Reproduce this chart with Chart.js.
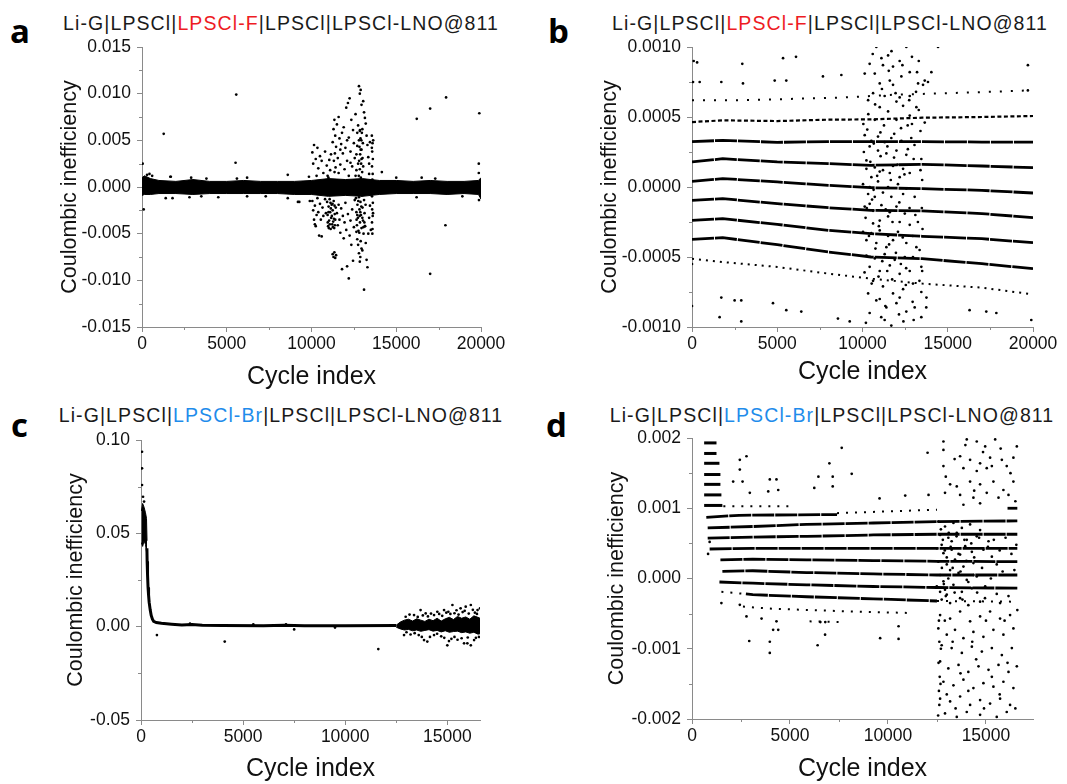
<!DOCTYPE html>
<html>
<head>
<meta charset="utf-8">
<script src="https://cdn.jsdelivr.net/npm/chart.js@4.4.1/dist/chart.umd.min.js"></script>
<style>
  body { margin: 0; background: #fff; width: 1067px; height: 784px; position: relative; overflow: hidden; font-family: "Liberation Sans", Arial, sans-serif; }
  canvas { position: absolute; }
  .tag { position: absolute; font-family: "Open Sans", sans-serif; font-weight: 700; font-size: 33px; line-height: 33px; color: #000; }
  .head { position: absolute; width: 600px; text-align: center; font-size: 19.5px; letter-spacing: 1.1px; line-height: 24px; color: #1a1a1a; white-space: nowrap; }
  .red { color: #ee1c24; }
  .blue { color: #1f8ceb; }
</style>
</head>
<body>
<div class="tag" style="left:10px;top:14px">a</div>
<div class="tag" style="left:548px;top:14px">b</div>
<div class="tag" style="left:11px;top:408px">c</div>
<div class="tag" style="left:546px;top:408px">d</div>
<div class="head" style="left:-19px;top:11px">Li-G|LPSCl|<span class="red">LPSCl-F</span>|LPSCl|LPSCl-LNO@811</div>
<div class="head" style="left:530px;top:11px">Li-G|LPSCl|<span class="red">LPSCl-F</span>|LPSCl|LPSCl-LNO@811</div>
<div class="head" style="left:-19px;top:403px">Li-G|LPSCl|<span class="blue">LPSCl-Br</span>|LPSCl|LPSCl-LNO@811</div>
<div class="head" style="left:532px;top:403px">Li-G|LPSCl|<span class="blue">LPSCl-Br</span>|LPSCl|LPSCl-LNO@811</div>
<canvas id="ca" width="533" height="392" style="left:0;top:0"></canvas>
<canvas id="cb" width="533" height="392" style="left:533px;top:0"></canvas>
<canvas id="cc" width="533" height="392" style="left:0;top:392px"></canvas>
<canvas id="cd" width="533" height="392" style="left:533px;top:392px"></canvas>
<script>
// tick values on the cycle axes
const xTicks20k = [0, 5000, 10000, 15000, 20000];
const xTicks15k = [0, 5000, 10000, 15000];

// ---------- panel a: LPSCl-F, full range ----------
const aBandX  = [0, 150, 500, 1000, 2000, 3000, 4000, 5000, 6000, 7000, 8000, 9000, 10000, 11000, 12000, 13000, 14000, 15000, 16000, 17000, 18000, 19000, 19850, 20000];
const aBandHi = [0.0010, 0.0012, 0.0009, 0.0007, 0.0006, 0.0008, 0.0006, 0.0006, 0.0007, 0.0006, 0.0006, 0.0006, 0.0007, 0.0009, 0.0008, 0.0009, 0.0007, 0.0007, 0.0006, 0.0007, 0.0006, 0.0006, 0.0007, 0.0010];
const aBandLo = [-0.0009, -0.0008, -0.0008, -0.0007, -0.0007, -0.0008, -0.0007, -0.0007, -0.0007, -0.0007, -0.0007, -0.0008, -0.0008, -0.0010, -0.0009, -0.0010, -0.0008, -0.0007, -0.0007, -0.0007, -0.0008, -0.0007, -0.0008, -0.0013];
const aFuzz = [[300,0.0013],[600,0.0012],[1700,0.0011],[2900,0.0010],[3800,0.0009],[5600,0.0009],[6200,0.0010],[8600,0.0013],[9200,-0.0016],[1400,-0.0012],[1800,-0.0012],[2800,-0.0011],[3500,-0.0010],[4500,-0.0011],[6200,-0.0010],[7300,-0.0010],[8600,-0.0012],[15000,0.0010],[16500,0.0010],[17300,0.0009],[18900,-0.0010],[16200,-0.0011],[440,0.0014],[1670,0.0011]];
const aOutliers = [[5560,0.0099],[1280,0.0057],[5520,0.0026],[40,0.0025],[100,-0.0024],[16210,0.0073],[17000,0.0084],[17940,0.0096],[19900,0.0079],[19870,0.0025],[19870,0.0015],[17900,-0.0041],[17000,-0.0093],[19880,-0.0014],[9280,-0.0016],[14150,0.0016]];
const aClusterUp = [[10050,0.0037],[10150,0.0045],[10100,0.0025],[10250,0.0030],[10350,0.0042],[10400,0.0020],[10500,0.0033],[10600,0.0028],[10700,0.0015],[10800,0.0038],[10900,0.0023],[10950,0.0012],[11050,0.0029],[11100,0.0018],[11150,0.0035],[11250,0.0048],[11300,0.0062],[11350,0.0072],[11400,0.0055],[11450,0.0043],[11500,0.0067],[11550,0.0031],[11600,0.0075],[11650,0.0052],[11700,0.0024],[11750,0.0046],[11800,0.0058],[11850,0.0036],[11900,0.0064],[11950,0.0019],[12000,0.0042],[12050,0.0085],[12100,0.0028],[12150,0.0090],[12200,0.0053],[12250,0.0095],[12300,0.0038],[12350,0.0072],[12400,0.0022],[12450,0.0061],[12500,0.0047],[12550,0.0031],[12600,0.0078],[12650,0.0035],[12700,0.0058],[12750,0.0066],[12800,0.0108],[12850,0.0100],[12900,0.0104],[12950,0.0088],[12700,0.0044],[12750,0.0025],[12800,0.0050],[12850,0.0060],[12900,0.0040],[12950,0.0030],[13000,0.0062],[13050,0.0092],[13100,0.0080],[13150,0.0074],[13200,0.0068],[13250,0.0055],[13300,0.0045],[13350,0.0032],[13400,0.0025],[13450,0.0048],[11000,0.0010],[11600,0.0015],[12200,0.0012],[12650,0.0018],[13400,0.0014],[9850,0.0011],[10300,0.0012],[11320,0.0028],[11380,0.0036],[11420,0.0021],[11360,0.0016],[11700,0.0040],[12100,0.0050],[12300,0.0026],[12600,0.0012]];
const aClusterDown = [[10050,-0.0015],[10100,-0.0025],[10150,-0.0035],[10200,-0.0020],[10250,-0.0042],[10300,-0.0030],[10350,-0.0012],[10400,-0.0027],[10450,-0.0052],[10500,-0.0018],[10550,-0.0035],[10600,-0.0053],[10650,-0.0022],[10700,-0.0031],[10800,-0.0013],[10850,-0.0028],[11500,-0.0028],[11550,-0.0041],[11600,-0.0019],[11650,-0.0035],[11700,-0.0049],[11750,-0.0023],[11800,-0.0088],[11850,-0.0031],[11900,-0.0055],[11950,-0.0038],[12000,-0.0017],[12050,-0.0046],[12100,-0.0085],[12150,-0.0029],[12200,-0.0098],[12250,-0.0052],[12300,-0.0036],[12350,-0.0062],[12400,-0.0024],[12450,-0.0079],[12500,-0.0043],[12550,-0.0014],[11250,-0.0072],[11300,-0.0075],[11350,-0.0070],[11400,-0.0076],[11450,-0.0073],[12700,-0.0056],[12750,-0.0062],[12800,-0.0071],[12850,-0.0080],[12900,-0.0058],[12950,-0.0066],[13100,-0.0110],[13150,-0.0042],[13200,-0.0060],[13250,-0.0078],[13300,-0.0086],[13350,-0.0050],[13400,-0.0033],[13450,-0.0020],[13500,-0.0046],[10200,-0.0040],[9900,-0.0015],[13000,-0.0068],[12880,-0.0075],[12650,-0.0048]];
const aDense = [[10920,-0.0016],[10950,-0.0030],[10980,-0.0042],[11010,-0.0021],[11040,-0.0036],[11070,-0.0013],[11100,-0.0027],[11130,-0.0045],[11160,-0.0033],[11190,-0.0019],[11220,-0.0040],[11250,-0.0025],[11280,-0.0037],[11310,-0.0015],[11340,-0.0044],[11370,-0.0029],[11400,-0.0035],[11430,-0.0022],[10960,-0.0038],[11020,-0.0044],[11080,-0.0040],[11140,-0.0023],[11200,-0.0031],[11260,-0.0043],[11320,-0.0034],[11380,-0.0041],[11000,-0.0027],[11120,-0.0017],[11240,-0.0018],[11360,-0.0020],
  [12620,-0.0012],[12650,-0.0027],[12680,-0.0041],[12710,-0.0019],[12740,-0.0033],[12770,-0.0047],[12800,-0.0011],[12830,-0.0024],[12860,-0.0038],[12890,-0.0016],[12920,-0.0030],[12950,-0.0044],[12980,-0.0009],[13010,-0.0022],[13040,-0.0036],[13070,-0.0050],[13100,-0.0014],[13130,-0.0028],[13160,-0.0042],[13190,-0.0019],[12700,-0.0030],[12760,-0.0015],[12820,-0.0049],[12880,-0.0027],[12940,-0.0021],[13000,-0.0033],[13060,-0.0043],[13120,-0.0038],[12660,-0.0035],[12840,-0.0031],
  [12790,0.0012],[12810,0.0028],[12830,0.0043],[12850,0.0019],[12870,0.0035],[12890,0.0052],[12910,0.0010],[12930,0.0025],[12950,0.0040],[12970,0.0058],[12990,0.0016],[13010,0.0031],[13030,0.0047],[13050,0.0022],[12860,0.0061],[12940,0.0050],
  [13560,0.0055],[13600,0.0047],[13580,0.0038],[13620,0.0030],[13570,0.0022],[13610,0.0014],[13590,0.0008],[13570,-0.0010],[13620,-0.0017],[13580,-0.0024],[13610,-0.0031],[13570,-0.0038],[13600,-0.0045],[13590,-0.0050],[13630,-0.0004],[13560,0.0042],[13640,0.0050],[13630,-0.0028]];

// ---------- panel b: LPSCl-F, zoomed ----------
const bStripeX = [0, 1800, 5000, 8000, 10500, 13500, 17000, 20000];
const bStripeD = [0.000464, 0.000476, 0.000471, 0.000481, 0.000483, 0.000495, 0.000500, 0.000507];
const bStripes = [
  [0.000324, 0.000333, 0.000319, 0.000324, 0.000324, 0.000324, 0.000321, 0.000321],
  [0.000179, 0.000202, 0.000179, 0.000167, 0.000155, 0.000162, 0.000150, 0.000138],
  [0.000040, 0.000060, 0.000036, 0.000012, -0.000005, -0.000012, -0.000024, -0.000043],
  [-0.000095, -0.000083, -0.000119, -0.000148, -0.000167, -0.000171, -0.000190, -0.000219],
  [-0.000238, -0.000226, -0.000267, -0.000310, -0.000333, -0.000352, -0.000369, -0.000398],
  [-0.000374, -0.000362, -0.000412, -0.000464, -0.000500, -0.000512, -0.000548, -0.000583]
];
const bStripeK = [-0.000512, -0.000536, -0.000571, -0.000619, -0.000655, -0.000690, -0.000719, -0.000767];
const bStripeC = [[0,0.00062],[3000,0.00062],[6000,0.00063],[9000,0.00064],[12000,0.00066],[15000,0.00067],[17500,0.00068],[19800,0.00069]];
const bSparse = [[100,0.0009],[300,0.00089],[2950,0.00088],[5340,0.00092],[6100,0.00093],[60,0.00075],[450,0.00075],[1720,0.00075],[2990,0.00074],[4850,0.00076],[5530,0.00076],[7680,0.00079],[8760,0.0008],[19700,0.00087],[19700,0.00069],[14430,0.001],[14040,0.00082],[13650,0.00076],[0,-0.00085],[1620,-0.00093],[2890,-0.00096],[1720,-0.00079],[2500,-0.00081],[2890,-0.00081],[4750,-0.00083],[5530,-0.00088],[6410,-0.00089],[8560,-0.00094],[9250,-0.00096],[16280,-0.00088],[17260,-0.00089],[17850,-0.0009],[19900,-0.00095],[13740,-0.00086],[0,-0.00055]];
const bCluster = [[10810,0.00100],[12570,0.00100],[11500,0.00094],[11110,0.00092],[12180,0.00090],[10420,0.00088],[11200,0.00087],[11790,0.00086],[12770,0.00082],[10720,0.00081],[10130,0.00081],[12280,0.00079],[11600,0.00076],[11010,0.00074],[11790,0.00073],[13260,0.00074],[13840,0.00075],[13550,0.00073],[10620,0.00067],[11300,0.00065],[12180,0.00064],[12770,0.00065],[10330,0.00062],[11990,0.00061],[12380,0.00058],[11010,0.00057],[13160,0.00057],[11500,0.00054],[12770,0.00051],[10720,0.00048],[13650,0.00046],[11990,0.00048],
  [10420,0.00029],[10910,0.00026],[11400,0.00024],[11990,0.00026],[12570,0.00023],[10230,0.00019],[11010,0.00011],[10520,0.00007],[11600,0.00010],[12180,0.00007],[12770,0.00010],[10330,-0.00005],[10720,-0.00007],[11200,-0.00004],[11690,-0.00007],[12380,-0.00005],[13060,-0.00007],[10420,-0.00012],[11010,-0.00024],[11500,-0.00021],[10620,-0.00026],[12180,-0.00025],[12770,-0.00027],[10230,-0.00038],[10810,-0.00040],[11400,-0.00043],[11790,-0.00038],[12570,-0.00040],[13160,-0.00043],[10420,-0.00057],[11010,-0.00060],[11600,-0.00056],[12180,-0.00062],[12770,-0.00060],[13450,-0.00057],[10620,-0.00067],[11200,-0.00071],[11790,-0.00076],[12380,-0.00073],[12960,-0.00069],[10810,-0.00081],[11400,-0.00086],[11990,-0.00083],[12570,-0.00089],[10420,-0.00090],[11300,-0.00095],[11690,-0.00099],[13060,-0.00086],[13750,-0.00079],[13450,-0.00093],
  [10130,0.00037],[10520,0.00033],[10910,0.00036],[11300,0.00032],[11690,0.00035],[12280,0.00033],[10230,0.00013],[10720,0.00014],[11200,0.00012],[11790,0.00015],[12380,0.00013],[10030,0.00002],[10420,0.0],[10910,0.00004],[11500,0.0],[12080,0.00002],[12570,-0.00001],[10130,-0.00014],[10620,-0.00017],[11110,-0.00013],[11600,-0.00018],[11990,-0.00014],[12480,-0.00019],[10030,-0.00032],[10520,-0.00033],[11010,-0.00031],[11500,-0.00035],[12080,-0.00032],[10230,-0.00049],[10720,-0.00051],[11300,-0.00048],[11890,-0.00052],[12480,-0.00050],[10330,-0.00076],[11010,-0.00080],[12180,-0.00079],
  [13300,0.00055],[13400,0.00040],[13450,0.00020],[13500,0.00005],[13480,-0.00015],[13520,-0.00030],[13350,-0.00045],[13500,-0.00060],[13450,-0.00075],[13300,0.00090],[13000,0.00020],[13100,-0.00020],[12900,0.00045],[12950,-0.00035],
  [10080,0.00025],[10180,-0.00022],[10280,0.00041],[10380,-0.00035],[10460,0.00018],[10560,-0.00009],[10660,0.00031],[10760,-0.00044],[10860,0.00008],[10960,-0.00028],[11060,0.00022],[11160,-0.00053],[11260,0.00044],[11360,-0.00016],[11460,0.00029],[11560,-0.00041],[11660,0.00005],[11760,-0.00025],[11860,0.00038],[11960,-0.00047],[12060,0.00016],[12160,-0.00011],[12260,0.00042],[12360,-0.00036],[12460,0.00009],[12560,-0.00058],[12660,0.00027],[12760,-0.00015],[12860,0.00035],[12960,-0.00050],[10120,-0.00061],[10340,0.00052],[10540,-0.00069],[10740,0.00059],[10940,-0.00064],[11140,0.00070],[11340,-0.00085],[11540,0.00083],[11740,-0.00066],[11940,0.00067],[12140,-0.00091],[12340,0.00087],[12540,-0.00070],[12740,0.00062],[12940,-0.00082],[13140,0.00068],[13340,-0.00067],[10050,0.00045],[10250,-0.00015],[10650,-0.00002],[11050,0.00039],[11450,-0.00060],[11850,0.00021],[12250,-0.00055],[12650,0.00044],[13050,0.00030],[13250,-0.00025],[13400,0.00012],[10600,0.00095],[11700,0.00097],[12900,0.00093],[13200,0.00082],[10200,-0.00097],[11100,-0.00093],[12400,-0.00096],[13000,-0.00095]];

// ---------- panel c: LPSCl-Br, full range ----------
const cEarly = [[50,0.0937],[50,0.0848],[50,0.0759],[100,0.0696],[150,0.0670]];
const cBlobX = [20, 80, 150, 220, 270, 295];
const cBlobHi = [0.062, 0.066, 0.064, 0.061, 0.058, 0.046];
const cBlobLo = [0.045, 0.043, 0.046, 0.044, 0.040, 0.032];
const cDecay = [[290,0.042],[300,0.035],[320,0.028],[345,0.021],[370,0.017],[400,0.013],[450,0.009],[500,0.006],[560,0.004],[620,0.0028],[750,0.0022],[1000,0.0018],[1500,0.0013],[2000,0.0009],[2500,0.0011],[3000,0.0007],[4000,0.0006],[6000,0.0005],[7000,0.0007],[8000,0.0005],[10000,0.0005],[12500,0.0006]];
const cBandX  = [12500, 12700, 12900, 13100, 13300, 13500, 13700, 13900, 14100, 14300, 14500, 14700, 14900, 15100, 15300, 15500, 15700, 15900, 16100, 16300, 16500, 16600];
const cBandHi = [0.0008, 0.0025, 0.0035, 0.0040, 0.0030, 0.0042, 0.0035, 0.0028, 0.0040, 0.0032, 0.0045, 0.0030, 0.0042, 0.0050, 0.0038, 0.0055, 0.0045, 0.0052, 0.0040, 0.0058, 0.0050, 0.0045];
const cBandLo = [-0.0003, -0.0012, -0.0018, -0.0015, -0.0022, -0.0018, -0.0025, -0.0020, -0.0016, -0.0024, -0.0020, -0.0028, -0.0022, -0.0030, -0.0026, -0.0024, -0.0032, -0.0028, -0.0035, -0.0030, -0.0040, -0.0038];
const cBandPts = [[12960,0.0053],[13370,0.0062],[13690,0.0089],[13940,0.0071],[14510,0.0080],[14840,0.0089],[15250,0.0116],[15650,0.0098],[15900,0.0107],[16150,0.0116],[16480,0.0089],[16600,0.0098],[13150,0.0065],[13550,0.0052],[13800,0.0060],[14050,0.0055],[14200,0.0070],[14350,0.0062],[14600,0.0068],[14750,0.0058],[14950,0.0075],[15050,0.0080],[15150,0.0068],[15350,0.0072],[15450,0.0088],[15550,0.0065],[15750,0.0078],[15850,0.0085],[16050,0.0070],[16250,0.0090],[16350,0.0075],[16450,0.0068],
  [12880,-0.0045],[13860,-0.0072],[14020,-0.0080],[14350,-0.0045],[15000,-0.0100],[15080,-0.0077],[15820,-0.0089],[15980,-0.0089],[16150,-0.0100],[16310,-0.0072],[13000,-0.0030],[13200,-0.0042],[13400,-0.0035],[13600,-0.0045],[13750,-0.0055],[14150,-0.0055],[14500,-0.0038],[14700,-0.0052],[14850,-0.0060],[15200,-0.0065],[15350,-0.0055],[15500,-0.0070],[15700,-0.0062],[16000,-0.0058],[16400,-0.0060],[16550,-0.0055]];
const cOutliers = [[780,-0.0045],[4100,-0.0080],[11620,-0.0120],[7500,-0.0015],[2400,0.0016],[5500,0.0013],[7100,0.0013],[9500,-0.0005]];

// ---------- panel d: LPSCl-Br, zoomed ----------
const dTopLevels = [0.00193, 0.00178, 0.00164, 0.00148, 0.00134, 0.00119, 0.00104];
const dTopStart = 620;
const dTopEnd = [1250, 1250, 1400, 1450, 1450, 1500, 1550];
const dStripes = [
  [[800,0.00072],[3100,0.00074],[5850,0.00077],[9250,0.00079],[12500,0.00081],[16600,0.00082]],
  [[800,0.000575],[3100,0.00059],[5850,0.00060],[9250,0.00062],[12500,0.00063],[16600,0.00063]],
  [[900,0.00042],[3100,0.00043],[5850,0.00043],[9250,0.00043],[12500,0.00043],[16600,0.00043]],
  [[1450,0.000265],[3100,0.000275],[5850,0.000265],[9250,0.000255],[12500,0.000245],[16600,0.00024]],
  [[1550,0.00010],[3100,0.00011],[5850,0.000085],[9250,0.000065],[12500,0.00005],[16600,0.00005]],
  [[1400,-0.00005],[3100,-0.000067],[5850,-0.00009],[9250,-0.000114],[12500,-0.000128],[16600,-0.000138]],
  [[730,0.00087],[2400,0.00090],[7400,0.00091]],
  [[16100,0.00100],[16600,0.00100]],
  [[2750,-0.00022],[3100,-0.00023],[5850,-0.00026],[9250,-0.00029],[12500,-0.00032]]
];
const dSparseRows = [
  [[7400,0.00093],[12500,0.00098]],
  [[1600,0.00103],[5000,0.00103]],
  [[1500,-0.00019],[2750,-0.00022]],
  [[12500,-0.00032],[16600,-0.00033]],
  [[2600,-0.00040],[4100,-0.00043],[8200,-0.00047],[11000,-0.00049]],
  [[6000,-0.00061],[7700,-0.00062]]
];
const dOutliers = [[2440,0.00169],[2780,0.00174],[2100,0.00138],[2580,0.00138],[2440,0.00155],[2950,0.00122],[3970,0.00141],[4310,0.00141],[3890,0.00124],[4400,0.00126],[6240,0.00129],[6450,0.00145],[7010,0.00164],[7180,0.00145],[7640,0.00186],[8150,0.00149],[7180,0.00131],[9570,0.00114],[10880,0.00118],[12020,0.00179],[12070,0.00119],[2440,-0.000375],[2780,-0.00054],[3550,-0.00057],[4310,-0.00061],[4140,-0.00073],[4400,-0.00073],[3970,-0.0009],[3970,-0.00106],[2920,-0.00089],[6790,-0.0008],[6410,-0.00095],[9600,-0.00085],[10540,-0.00068],[10540,-0.00086],[6800,-0.00062],[6550,-0.00062],[1500,-0.00035],[900,0.00052],[820,0.00035]];
const dCluster = [[12830,0.00195],[12830,0.00183],[14020,0.00198],[14530,0.00195],[14960,0.00188],[15470,0.00198],[16575,0.00188],[15810,0.00169],[15210,0.00172],[14700,0.00164],[14190,0.00169],[13680,0.00174],[12830,0.00160],[13850,0.00157],[14530,0.00153],[15040,0.00157],[16060,0.00160],[16400,0.00172],[13170,0.00134],[13510,0.00131],[14190,0.00138],[14700,0.00134],[15380,0.00138],[15890,0.00126],[16400,0.00138],[12910,0.00122],[13680,0.00119],[14360,0.00115],[15040,0.00122],[15640,0.00115],[16150,0.00119],[13850,0.00105],[14700,0.00107],
  [12570,0.00081],[12910,0.00074],[13340,0.00079],[13770,0.00072],[14190,0.00077],[14700,0.00069],[12660,0.00062],[13080,0.00058],[13510,0.00065],[14020,0.00055],[14530,0.00060],[15130,0.00053],[12490,0.00043],[12830,0.00036],[13250,0.00041],[13680,0.00034],[14280,0.00038],[14870,0.00041],[12570,0.00024],[13000,0.00020],[13420,0.00027],[13850,0.00017],[14360,0.00022],[15550,0.00020],[12660,0.00005],[13080,0.0],[13600,0.00008],[14020,-0.00002],[14530,0.00003],[12490,-0.00011],[12910,-0.00016],[13340,-0.00009],[13770,-0.00019],[14280,-0.00014],[14960,-0.00011],[12740,-0.00030],[13170,-0.00035],[13680,-0.00028],[14100,-0.00038],[14700,-0.00033],[15720,-0.00035],[12740,0.00048],[13170,0.00012],[12830,-0.00004],[13000,-0.00023],[12660,-0.00019],[13250,0.00053],[13940,0.00046],[14360,0.00005],[15300,0.00031],
  [12660,-0.00052],[13170,-0.00057],[13680,-0.00047],[14190,-0.00061],[14700,-0.00054],[15210,-0.00047],[15720,-0.00057],[16230,-0.00052],[16600,-0.00045],[12570,-0.00071],[13000,-0.00080],[13420,-0.00073],[13850,-0.00085],[14360,-0.00076],[14870,-0.00083],[15380,-0.00073],[15890,-0.00080],[16400,-0.00071],[12740,-0.00095],[13250,-0.00099],[13770,-0.00106],[14280,-0.00097],[14790,-0.00104],[15300,-0.00099],[15810,-0.00109],[16320,-0.00099],[12660,-0.00118],[13080,-0.00128],[13600,-0.00123],[14100,-0.00133],[14620,-0.00125],[15130,-0.00130],[15640,-0.00123],[16150,-0.00133],[16575,-0.00125],[12830,-0.00147],[13340,-0.00152],[13850,-0.00144],[14360,-0.00156],[14870,-0.00149],[15380,-0.00154],[15890,-0.00147],[16400,-0.00156],[12660,-0.00171],[13170,-0.00175],[13680,-0.00168],[14190,-0.00180],[14700,-0.00173],[15210,-0.00178],[15720,-0.00171],[16230,-0.00180],[12910,-0.00192],[13510,-0.00197],[14020,-0.00190],[14700,-0.00194],[15550,-0.00197],[16060,-0.00190],[12600,-0.0006],[12620,-0.0009],[12580,-0.0012],[12640,-0.0014],[12600,-0.0016],[12620,-0.0018],[12560,-0.00195],[12700,-0.0010],[12680,-0.0015],
  [12700,0.00070],[12800,0.00055],[12900,0.00040],[13000,0.00030],[12750,0.00015],[12850,-0.00008],[12950,-0.00025],[13100,0.00065],[13200,0.00045],[13300,0.00015],[13400,-0.00020],[13500,0.00060],[13600,0.00035],[13700,0.00010],[13800,-0.00030],[13900,0.00055],[14000,0.00025],[14100,-0.00005],[14250,0.00050],[14400,0.00030],[14550,-0.00020],[14650,0.00058],[14800,0.00015],[14950,-0.00028],[15100,0.00045],[15250,0.00000],[15400,0.00055],[15550,-0.00022],[15700,0.00040],[15850,0.00010],[16000,0.00058],[16150,-0.00025],[16300,0.00035],[16450,0.00012],[16550,0.00048],
  [12900,-0.00060],[13300,-0.00090],[13700,-0.00135],[14100,-0.00160],[14500,-0.00115],[14900,-0.00185],[15300,-0.00140],[15700,-0.00165],[16100,-0.00120],[16500,-0.00185],[13000,-0.00165],[13450,-0.00185],[14300,-0.00090],[15000,-0.00060],[15950,-0.00060],[12950,0.00145],[13400,0.00170],[13950,0.00190],[14400,0.00125],[14850,0.00180],[15300,0.00160],[15750,0.00185],[16250,0.00150],[16500,0.00110]];

// ---------- helpers ----------
const axisGray = '#8a8a8a';
const toXY = arr => arr.map(([x, y]) => ({ x, y }));
const zip = (xs, ys) => xs.map((x, i) => ({ x, y: ys[i] }));

function dots(arr) {
  return { data: toXY(arr), showLine: false, pointRadius: 1.35, pointBackgroundColor: '#000', pointBorderWidth: 0 };
}
function stroke(points, width, dash) {
  return { data: points, borderColor: '#000', borderWidth: width, borderDash: dash || [], pointRadius: 0, tension: 0, fill: false };
}
function area(xs, hi, lo) {
  return [
    { data: zip(xs, hi), fill: '+1', backgroundColor: '#000', borderColor: '#000', borderWidth: 1, pointRadius: 0, tension: 0 },
    { data: zip(xs, lo), fill: false, borderColor: '#000', borderWidth: 1, pointRadius: 0, tension: 0 }
  ];
}

// minor ticks halfway between the major ones
const minorTicks = {
  id: 'minorTicks',
  afterDraw(chart) {
    const ctx = chart.ctx;
    ctx.save();
    ctx.strokeStyle = axisGray;
    ctx.lineWidth = 1;
    ['x', 'y'].forEach(id => {
      const s = chart.scales[id];
      const vals = s.ticks.map(t => t.value);
      const step = vals[1] - vals[0];
      const mids = vals.map(v => v + step / 2).filter(v => v < s.max);
      mids.forEach(v => {
        const p = Math.round(s.getPixelForValue(v)) + 0.5;
        ctx.beginPath();
        if (id === 'x') { ctx.moveTo(p, chart.chartArea.bottom); ctx.lineTo(p, chart.chartArea.bottom + 3); }
        else { ctx.moveTo(chart.chartArea.left - 3, p); ctx.lineTo(chart.chartArea.left, p); }
        ctx.stroke();
      });
    });
    ctx.restore();
  }
};

function panel(id, cfg) {
  const tickFont = { family: '"Liberation Sans", Arial, sans-serif', size: 17.5 };
  new Chart(document.getElementById(id), {
    type: 'line',
    data: { datasets: cfg.datasets },
    options: {
      responsive: false,
      animation: false,
      events: [],
      layout: { padding: { left: 0, top: cfg.top, right: cfg.right, bottom: 0 }, autoPadding: false },
      plugins: { legend: { display: false }, tooltip: { enabled: false } },
      scales: {
        x: {
          type: 'linear', min: cfg.xMin, max: cfg.xMax,
          afterBuildTicks: s => { s.ticks = cfg.xTicks.map(v => ({ value: v })); },
          afterFit: s => { s.height = cfg.xH; },
          border: { color: axisGray },
          grid: { drawOnChartArea: false, tickLength: 5, color: axisGray },
          ticks: { maxRotation: 0, autoSkip: false, padding: 2, color: '#111', font: tickFont,
                   callback: v => String(v) },
          title: { display: true, text: 'Cycle index', color: '#111',
                   font: { family: '"Liberation Sans", Arial, sans-serif', size: 25 },
                   padding: { top: 0, bottom: cfg.xTitlePad } }
        },
        y: {
          min: cfg.yMin, max: cfg.yMax,
          afterFit: s => { s.width = cfg.yW; },
          border: { color: axisGray },
          grid: { drawOnChartArea: false, tickLength: 5, color: axisGray },
          ticks: { stepSize: cfg.yStep, includeBounds: false, autoSkip: false, padding: 6, color: '#111', font: tickFont,
                   callback: v => (Math.abs(v) < 1e-12 ? 0 : v).toFixed(cfg.yDec) },
          title: { display: true, text: 'Coulombic inefficiency', color: '#111',
                   font: { family: '"Liberation Sans", Arial, sans-serif', size: 21.5 },
                   padding: { top: cfg.yTitlePad, bottom: 0 } }
        }
      }
    },
    plugins: [minorTicks]
  });
}

// ---------- build panels ----------
panel('ca', {
  top: 47, right: 52, xH: 65, yW: 142, xTitlePad: 0, yTitlePad: 57,
  xMin: 0, xMax: 20000, xTicks: xTicks20k, yMin: -0.015, yMax: 0.015, yStep: 0.005, yDec: 3,
  datasets: [
    ...area(aBandX, aBandHi, aBandLo),
    dots(aFuzz), dots(aOutliers), dots(aClusterUp), dots(aClusterDown), dots(aDense)
  ]
});

panel('cb', {
  top: 47, right: 33, xH: 65, yW: 159, xTitlePad: 5, yTitlePad: 64,
  xMin: 0, xMax: 20000, xTicks: xTicks20k, yMin: -0.001, yMax: 0.001, yStep: 0.0005, yDec: 4,
  datasets: [
    ...bStripes.map(s => stroke(zip(bStripeX, s), 2.8, [22, 1])),
    stroke(zip(bStripeX, bStripeD), 2.2, [4, 2.5]),
    stroke(zip(bStripeX, bStripeK), 2, [2, 5]),
    stroke(toXY(bStripeC), 2, [2, 9]),
    dots(bSparse), dots(bCluster)
  ]
});

panel('cc', {
  top: 48, right: 53, xH: 64, yW: 141, xTitlePad: 0, yTitlePad: 63,
  xMin: 0, xMax: 16600, xTicks: xTicks15k, yMin: -0.05, yMax: 0.10, yStep: 0.05, yDec: 2,
  datasets: [
    ...area(cBlobX, cBlobHi, cBlobLo),
    stroke(toXY(cDecay), 3),
    ...area(cBandX, cBandHi, cBandLo),
    dots(cEarly), dots(cBandPts), dots(cOutliers)
  ]
});

panel('cd', {
  top: 46, right: 33, xH: 65, yW: 159, xTitlePad: 0, yTitlePad: 71,
  xMin: 0, xMax: 17400, xTicks: xTicks15k, yMin: -0.002, yMax: 0.002, yStep: 0.001, yDec: 3,
  datasets: [
    ...dTopLevels.map((lv, i) => stroke([{ x: dTopStart, y: lv }, { x: dTopEnd[i], y: lv }], 3)),
    ...dStripes.map(s => stroke(toXY(s), 2.8, [22, 1])),
    ...dSparseRows.map(s => stroke(toXY(s), 2, [2, 7])),
    dots(dOutliers), dots(dCluster)
  ]
});
</script>
</body>
</html>
